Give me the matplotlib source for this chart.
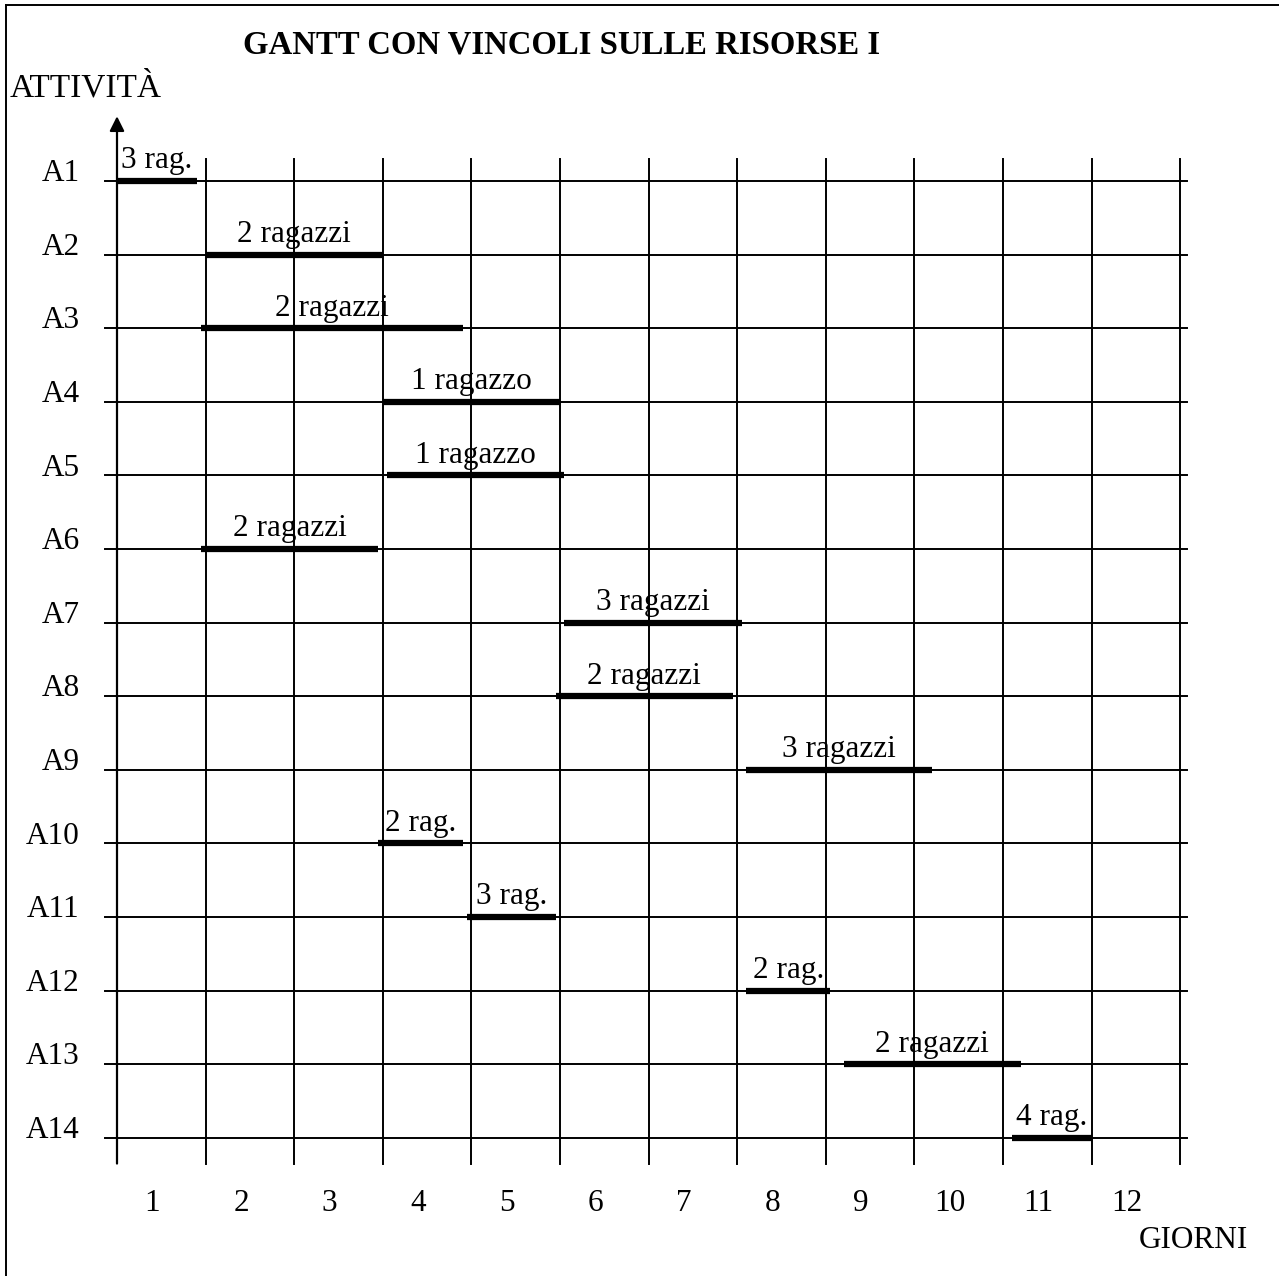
import matplotlib.pyplot as plt

# schedule (days)
activities = ['A1', 'A2', 'A3', 'A4', 'A5', 'A6', 'A7',
              'A8', 'A9', 'A10', 'A11', 'A12', 'A13', 'A14']
start = [0.0, 1.0, 0.95, 3.0, 3.05, 0.95, 5.05, 4.95, 7.1, 2.95, 3.95, 7.1, 8.2, 10.1]
end = [0.9, 3.0, 3.9, 5.0, 5.05, 2.95, 7.05, 6.95, 9.2, 3.9, 4.95, 8.05, 10.2, 11.0]
resources = ['3 rag.', '2 ragazzi', '2 ragazzi', '1 ragazzo', '1 ragazzo', '2 ragazzi',
             '3 ragazzi', '2 ragazzi', '3 ragazzi', '2 rag.', '3 rag.', '2 rag.',
             '2 ragazzi', '4 rag.']
days = list(range(1, 13))

plt.rcParams['font.family'] = ['Liberation Serif', 'DejaVu Serif']
fs = 22.5

fig = plt.figure(figsize=(12.79, 12.76), dpi=100)
ax = fig.add_axes([0, 0, 1, 1])
px_day = 88.6
px_row = 73.6
ax.set_xlim(-117 / px_day, (1279 - 117) / px_day)
ax.set_ylim(1 + (1276 - 181) / px_row, 1 - 181 / px_row)
ax.axis('off')

n = len(activities)
rows = list(range(1, n + 1))

# grid
for r in rows:
    ax.plot([-0.14, 12.08], [r, r], color='black', lw=1.4)
for d in days:
    ax.plot([d, d], [0.7, 14.35], color='black', lw=1.4)

# vertical axis with arrow
ax.annotate('', xy=(0, 0.12), xytext=(0, 14.35),
            arrowprops=dict(arrowstyle='-|>', lw=1.6, color='black',
                            mutation_scale=22, shrinkA=0, shrinkB=0))

# bars and labels
for r, s, e, lab in zip(rows, start, end, resources):
    ax.plot([s, e], [r, r], color='black', lw=4.5, solid_capstyle='butt')
    ax.text((s + e) / 2, r - 0.17, lab, ha='center', va='baseline', fontsize=fs)

for r, a in zip(rows, activities):
    ax.text(-0.42, r - 0.1, a, ha='right', va='center', fontsize=fs)

for d in days:
    ax.text(d - 0.6, 14.89, str(d), ha='center', va='center', fontsize=fs)

ax.text(12.77, 15.39, 'GIORNI', ha='right', va='center', fontsize=fs)
ax.text(-1.21, -0.26, 'ATTIVITÀ', ha='left', va='center', fontsize=24)
ax.text(5.02, -0.85, 'GANTT CON VINCOLI SULLE RISORSE I', ha='center', va='center',
        fontsize=23.6, fontweight='bold')

# page frame (left and top)
fig.add_artist(plt.Line2D([6 / 1279, 6 / 1279], [0, 1 - 5 / 1276], color='black', lw=1.4))
fig.add_artist(plt.Line2D([6 / 1279, 1], [1 - 5 / 1276, 1 - 5 / 1276], color='black', lw=1.4))

fig.savefig('out.png', dpi=100)
